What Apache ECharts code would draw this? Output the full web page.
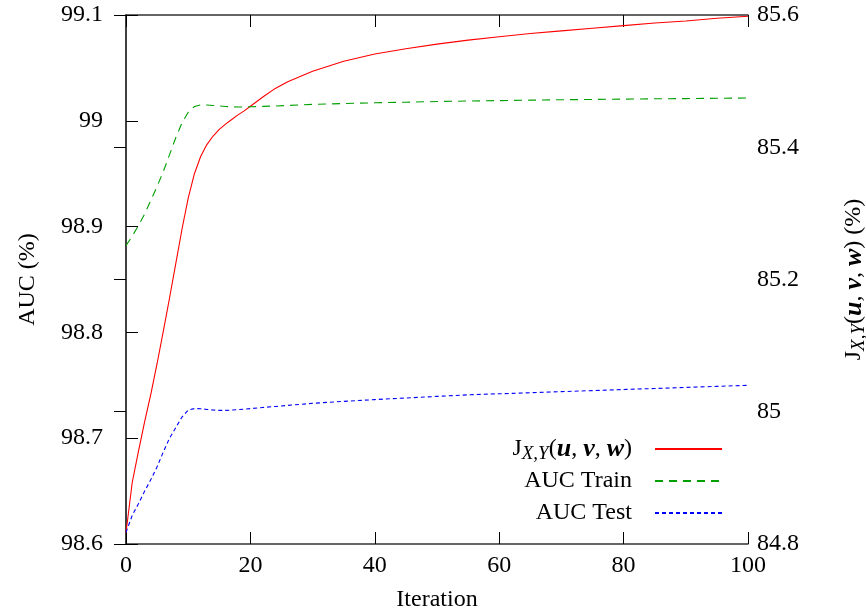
<!DOCTYPE html>
<html>
<head>
<meta charset="utf-8">
<script src="https://cdn.jsdelivr.net/npm/echarts@6/dist/echarts.min.js"></script>
<style>
  html, body { margin: 0; padding: 0; background: #ffffff; }
  #chart { width: 866px; height: 611px; }
</style>
</head>
<body>
<div id="chart"></div>
<script>
// Training iterations at which the metrics were recorded
const iterations = [0, 1, 2, 3, 4, 5, 6, 7, 8, 9, 10, 11, 12, 13, 14, 15, 16, 17, 18, 19, 20,
  22, 24, 26, 28, 30, 35, 40, 45, 50, 55, 60, 65, 70, 75, 80, 85, 90, 95, 100];

// Objective J_{X,Y}(u,v,w) in % (right axis)
const jScore = [84.817, 84.893, 84.940, 84.985, 85.027, 85.073, 85.122, 85.172, 85.224, 85.276, 85.323,
  85.360, 85.386, 85.404, 85.417, 85.427, 85.435, 85.442, 85.449, 85.455, 85.462,
  85.476, 85.489, 85.499, 85.507, 85.515, 85.530, 85.541, 85.549, 85.556, 85.562,
  85.567, 85.572, 85.576, 85.580, 85.584, 85.588, 85.591, 85.595, 85.598];

// AUC on the training set in % (left axis)
const aucTrain = [98.882, 98.891, 98.901, 98.912, 98.925, 98.938, 98.952, 98.968, 98.984, 98.998, 99.008,
  99.0135, 99.015, 99.015, 99.0145, 99.014, 99.0135, 99.0132, 99.013, 99.013, 99.0133,
  99.0136, 99.014, 99.0145, 99.015, 99.0155, 99.0163, 99.017, 99.0176, 99.0182, 99.0187,
  99.0191, 99.0195, 99.0199, 99.0202, 99.0205, 99.0208, 99.021, 99.0213, 99.0215];

// AUC on the test set in % (left axis)
const aucTest = [98.611, 98.627, 98.638, 98.650, 98.661, 98.673, 98.687, 98.700, 98.710, 98.720, 98.7265,
  98.728, 98.7278, 98.7272, 98.7266, 98.7263, 98.7263, 98.7266, 98.727, 98.7275, 98.728,
  98.729, 98.730, 98.731, 98.732, 98.733, 98.7348, 98.7365, 98.738, 98.7395, 98.741,
  98.742, 98.743, 98.744, 98.745, 98.746, 98.747, 98.748, 98.749, 98.750];

// Axis ranges: [min, max, step]
const xRange = [0, 100, 20];
const aucRange = [98.6, 99.1, 0.1];
const jRange = [84.8, 85.6, 0.2];

const seriesNames = ['J', 'AUC Train', 'AUC Test'];

const FONT = "'Liberation Serif', 'DejaVu Serif', serif";
const richStyles = {
  r: { fontFamily: FONT, fontSize: 24, lineHeight: 28, color: '#000' },
  s: { fontFamily: FONT, fontSize: 19, fontStyle: 'italic', lineHeight: 12, verticalAlign: 'bottom', color: '#000' },
  b: { fontFamily: FONT, fontSize: 26, fontStyle: 'italic', fontWeight: 'bold', lineHeight: 28, color: '#000' },
  g: { width: 18, lineHeight: 28 }
};
const jLabel = '{r|J}{s|X,Y}{r|(}{b|u}{r|, }{b|v}{r|, }{b|w}{r|)}';

const pairs = (ys) => iterations.map((x, i) => [x, ys[i]]);

const frameLine = { show: true, lineStyle: { color: '#333', width: 1.5 } };
const tick = { show: true, inside: true, length: 12, lineStyle: { color: '#000', width: 1 } };
const labelFont = { fontFamily: FONT, fontSize: 24, color: '#000' };

function legendFor(name, top, label) {
  return {
    data: [name], right: 143, top: top, padding: 0, orient: 'horizontal', align: 'right',
    itemWidth: 67, itemHeight: 14, selectedMode: false,
    itemStyle: { opacity: 0 },
    formatter: () => label + '{g| }',
    textStyle: { rich: richStyles, fontFamily: FONT, fontSize: 24 }
  };
}

const chart = echarts.init(document.getElementById('chart'), null, { renderer: 'canvas' });
chart.setOption({
  animation: false,
  backgroundColor: '#ffffff',
  grid: { left: 126, right: 118, top: 15, bottom: 67, containLabel: false, outerBoundsMode: 'none' },
  legend: [
    legendFor(seriesNames[0], 436, jLabel),
    legendFor(seriesNames[1], 469, '{r|AUC Train}'),
    legendFor(seriesNames[2], 501, '{r|AUC Test}')
  ],
  xAxis: [
    {
      type: 'value', min: xRange[0], max: xRange[1], interval: xRange[2], position: 'bottom',
      axisLine: frameLine, axisTick: tick, splitLine: { show: false },
      axisLabel: Object.assign({ margin: 10 }, labelFont),
      name: 'Iteration', nameLocation: 'middle', nameGap: 44, nameMoveOverlap: false,
      nameTextStyle: { fontFamily: FONT, fontSize: 24, color: '#000' }
    },
    {
      type: 'value', min: xRange[0], max: xRange[1], interval: xRange[2], position: 'top',
      axisLine: frameLine, axisTick: tick, splitLine: { show: false }, axisLabel: { show: false }
    }
  ],
  yAxis: [
    {
      type: 'value', min: aucRange[0], max: aucRange[1], interval: aucRange[2], position: 'left',
      axisLine: frameLine, axisTick: tick, splitLine: { show: false },
      axisLabel: Object.assign({ margin: 23 }, labelFont),
      name: 'AUC (%)', nameLocation: 'middle', nameGap: 86, nameRotate: 90, nameMoveOverlap: false,
      nameTextStyle: { fontFamily: FONT, fontSize: 24, color: '#000' }
    },
    {
      type: 'value', min: jRange[0], max: jRange[1], interval: jRange[2], position: 'right',
      axisLine: frameLine, axisTick: tick, splitLine: { show: false },
      axisLabel: Object.assign({ margin: 9 }, labelFont),
      name: jLabel + '{r| (%)}', nameLocation: 'middle', nameGap: 92, nameRotate: 90, nameMoveOverlap: false,
      nameTextStyle: { rich: richStyles, fontFamily: FONT, fontSize: 24 }
    }
  ],
  series: [
    {
      name: seriesNames[0], type: 'line', yAxisIndex: 1, data: pairs(jScore),
      showSymbol: false, symbol: 'none', smooth: false,
      lineStyle: { color: '#ff0000', width: 1.1, type: 'solid' }, itemStyle: { color: '#ff0000' }
    },
    {
      name: seriesNames[1], type: 'line', yAxisIndex: 0, data: pairs(aucTrain),
      showSymbol: false, symbol: 'none', smooth: false,
      lineStyle: { color: '#00a000', width: 1.1, type: [8, 6] }, itemStyle: { color: '#00a000' }
    },
    {
      name: seriesNames[2], type: 'line', yAxisIndex: 0, data: pairs(aucTest),
      showSymbol: false, symbol: 'none', smooth: false,
      lineStyle: { color: '#0000ff', width: 1.1, type: [4, 3] }, itemStyle: { color: '#0000ff' }
    }
  ]
});
</script>
</body>
</html>
